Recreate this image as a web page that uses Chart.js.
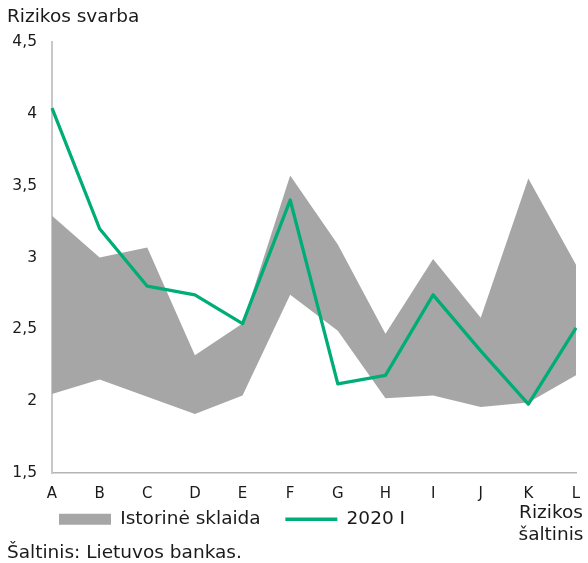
<!doctype html>
<html lang="lt">
    <head>
        <meta charset="utf-8" />
        <title>Rizikos svarba</title>
        <script src="https://cdn.jsdelivr.net/npm/chart.js@4.4.1/dist/chart.umd.min.js"></script>
        <style>
            html, body { margin: 0; padding: 0; background: #fff; }
            #wrap { width: 588px; height: 563px; }
        </style>
    </head>
    <body>
        <div id="wrap">
            <canvas id="myChart" width="588" height="563"></canvas>
        </div>

        <script>
            // dati
            const categorie = ['A', 'B', 'C', 'D', 'E', 'F', 'G', 'H', 'I', 'J', 'K', 'L'];
            const sklaidaMax = [3.29, 3.00, 3.07, 2.32, 2.54, 3.57, 3.09, 2.47, 2.99, 2.58, 3.55, 2.95];
            const sklaidaMin = [2.05, 2.15, 2.03, 1.91, 2.04, 2.74, 2.49, 2.02, 2.04, 1.96, 1.99, 2.18];
            const serie2020 = [4.04, 3.20, 2.80, 2.74, 2.54, 3.40, 2.12, 2.18, 2.74, 2.35, 1.98, 2.51];
            const yTicks = [1.5, 2, 2.5, 3, 3.5, 4, 4.5];

            const GRIGIO = '#a6a6a6';
            const VERDE = '#00ad76';
            const FONT = "'DejaVu Sans', Verdana, sans-serif";

            Chart.defaults.font.family = FONT;
            Chart.defaults.color = '#1a1a1a';

            //testo "Rizikos šaltinis" a destra, sulla riga della legenda
            const notaAsse = {
                id: 'notaAsse',
                afterDraw(chart) {
                    const ctx = chart.ctx;
                    ctx.save();
                    ctx.font = '18.5px ' + FONT;
                    ctx.fillStyle = '#1a1a1a';
                    ctx.textAlign = 'center';
                    ctx.textBaseline = 'middle';
                    ctx.fillText('Rizikos', 551, 513);
                    ctx.fillText('šaltinis', 551, 535);
                    ctx.restore();
                }
            };

            const mychart = new Chart(document.getElementById('myChart'), {
                type: 'line',
                data: {
                    labels: categorie,
                    datasets: [{
                        label: 'Istorinė sklaida   ',
                        data: sklaidaMax,
                        borderWidth: 0,
                        borderColor: GRIGIO,
                        backgroundColor: GRIGIO,
                        fill: '+1',
                        pointRadius: 0,
                        pointStyle: 'rect',
                        tension: 0
                    }, {
                        label: 'min',
                        data: sklaidaMin,
                        borderWidth: 0,
                        borderColor: GRIGIO,
                        backgroundColor: GRIGIO,
                        fill: false,
                        pointRadius: 0,
                        tension: 0
                    }, {
                        label: '2020 I',
                        data: serie2020,
                        borderWidth: 3.3,
                        borderColor: VERDE,
                        backgroundColor: VERDE,
                        borderJoinStyle: 'round',
                        fill: false,
                        pointRadius: 0,
                        pointStyle: 'line',
                        tension: 0
                    }]
                },
                options: {
                    responsive: false,
                    animation: false,
                    layout: {
                        padding: { left: 7, right: 12, top: 0, bottom: 0 }
                    },
                    scales: {
                        x: {
                            type: 'category',
                            offset: false,
                            afterFit: (scale) => {
                                scale.height = 30; //padding etichette + altezza testo
                                scale.paddingRight = 0; //l'ultima etichetta può uscire dall'area
                            },
                            grid: { display: false, drawTicks: false },
                            border: { display: true, color: '#b4b4b4', width: 1.5 },
                            ticks: {
                                padding: 12,
                                maxRotation: 0,
                                autoSkip: false,
                                font: { size: 15 },
                                color: '#1a1a1a'
                            }
                        },
                        y: {
                            type: 'linear',
                            min: 1.5,
                            max: 4.5,
                            afterBuildTicks: (scale) => {
                                scale.ticks = yTicks.map(v => ({ value: v }));
                            },
                            afterFit: (scale) => {
                                scale.width = 45;
                            },
                            grid: { display: false, drawTicks: false },
                            border: { display: true, color: '#c8c8c8', width: 2 },
                            ticks: {
                                padding: 15,
                                font: { size: 15.5 },
                                color: '#1a1a1a',
                                callback: (v) => String(v).replace('.', ',')
                            }
                        }
                    },
                    plugins: {
                        filler: { drawTime: 'beforeDatasetsDraw' },
                        tooltip: { enabled: false },
                        title: {
                            display: true,
                            text: 'Rizikos svarba',
                            align: 'start',
                            font: { size: 18.5, weight: 'normal', lineHeight: 1.2 },
                            color: '#1a1a1a',
                            padding: { top: 6, bottom: 13.8 }
                        },
                        subtitle: {
                            display: true,
                            position: 'bottom',
                            text: 'Šaltinis: Lietuvos bankas.',
                            align: 'start',
                            font: { size: 18.5, weight: 'normal', lineHeight: 1.0 },
                            color: '#1a1a1a',
                            padding: { top: 5, bottom: 1 }
                        },
                        legend: {
                            display: true,
                            position: 'bottom',
                            align: 'start',
                            fullSize: false,
                            labels: {
                                usePointStyle: true,
                                pointStyleWidth: 52,
                                boxHeight: 11,
                                padding: 7,
                                font: { size: 18.5 },
                                color: '#1a1a1a',
                                filter: (item) => item.datasetIndex !== 1
                            }
                        }
                    }
                },
                plugins: [notaAsse]
            });
        </script>
    </body>
</html>
